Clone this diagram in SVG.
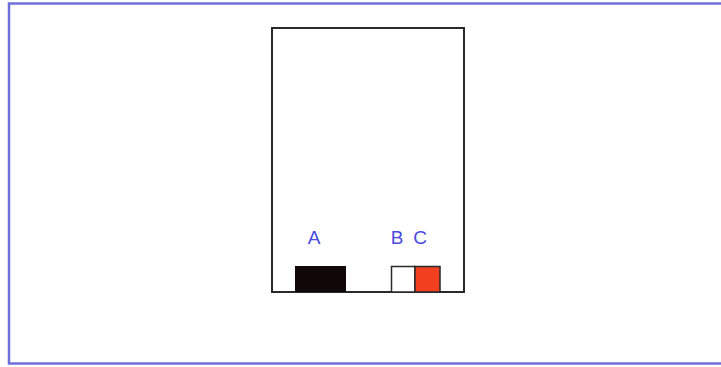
<svg xmlns="http://www.w3.org/2000/svg" width="721" height="367" viewBox="0 0 721 367">
<style>
.lbl{font-family:"Liberation Sans",Arial,sans-serif;font-size:19px;fill:#4a4ae0;text-anchor:middle}
</style>
<rect width="721" height="367" fill="#ffffff"/>
<rect id="frame" x="9" y="3.5" width="716" height="360" fill="none" stroke="#6f6fdc" stroke-width="2.5"/>
<g id="container"><rect x="272" y="28" width="192" height="264" fill="#ffffff" stroke="#2a2a2a" stroke-width="2"/></g>
<g id="A"><rect x="295" y="266" width="51" height="26" fill="#100808"/><text class="lbl" x="314" y="244">A</text></g>
<g id="B"><rect x="391.5" y="266.5" width="23.5" height="25.5" fill="#ffffff" stroke="#2a2a2a" stroke-width="1.5"/><text class="lbl" x="397" y="244">B</text></g>
<g id="C"><rect x="415" y="266.5" width="25" height="25.5" fill="#f04020" stroke="#2a2a2a" stroke-width="1.5"/><text class="lbl" x="420" y="244">C</text></g>
<g id="connectors"/>
</svg>
